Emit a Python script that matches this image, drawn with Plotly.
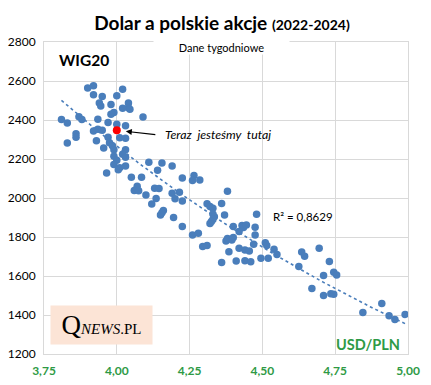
import numpy as np
import plotly.graph_objects as go

# Weekly data 2022-2024: USD/PLN vs WIG20
usd = [3.90, 3.92, 3.92, 3.95, 4.00, 4.02, 3.94, 3.945, 3.98, 4.04, 4.04, 4.02, 4.045,
       3.99, 3.98, 4.09, 3.81, 3.83, 3.87, 3.88, 3.935, 3.97, 4.00, 4.03, 3.935, 3.92,
       3.95, 3.86, 3.86, 3.93, 3.97, 4.01, 4.03, 3.83, 3.975, 3.955, 3.985, 3.99, 4.03,
       4.02, 3.99, 4.00, 4.03, 3.99, 4.01, 4.03, 4.005, 3.965,
       4.05, 4.085, 4.11, 4.155, 4.19, 4.14, 4.225, 4.265, 4.26, 4.285, 4.07, 4.06,
       4.075, 4.10, 4.13, 4.145, 4.19, 4.20, 4.215, 4.225, 4.135, 4.12, 4.16, 4.15,
       4.155, 4.195, 4.225, 4.38,
       4.31, 4.32, 4.33, 4.33, 4.335, 4.33, 4.325, 4.32, 4.36, 4.37, 4.48, 4.26, 4.28,
       4.295, 4.31, 4.40, 4.43, 4.435, 4.445, 4.42, 4.475, 4.475, 4.375, 4.38, 4.395,
       4.40, 4.385, 4.42, 4.44, 4.455, 4.47, 4.36, 4.41, 4.44, 4.46, 4.495, 4.52, 4.51,
       4.515, 4.54, 4.55,
       4.625, 4.635, 4.645, 4.695, 4.73, 4.71, 4.745, 4.755, 4.67, 4.71, 4.735, 4.745,
       4.845, 4.91, 4.935, 4.955, 4.99]
wig20 = [2564, 2576, 2530, 2520, 2525, 2558, 2487, 2472, 2479, 2487, 2463, 2460, 2455,
         2438, 2429, 2415, 2402, 2385, 2417, 2403, 2404, 2387, 2378, 2370, 2352, 2343,
         2347, 2330, 2312, 2294, 2311, 2309, 2306, 2282, 2283, 2257, 2268, 2247, 2247,
         2224, 2214, 2194, 2209, 2172, 2155, 2164, 2145, 2128,
         2107, 2107, 2183, 2179, 2164, 2142, 2102, 2116, 2090, 2092, 2060, 2038,
         2037, 2016, 2050, 2049, 2024, 1996, 2029, 1985, 1998, 1969, 1936, 1913,
         1925, 1900, 1854, 2034,
         1970, 1956, 1947, 1918, 1904, 1890, 1879, 1869, 1972, 1913, 1917, 1810, 1819,
         1751, 1756, 1854, 1859, 1849, 1862, 1828, 1850, 1810, 1780, 1792, 1785,
         1797, 1724, 1742, 1733, 1728, 1763, 1669, 1677, 1678, 1673, 1691, 1691, 1770,
         1756, 1737, 1710,
         1649, 1723, 1701, 1742, 1675, 1602, 1619, 1605, 1536, 1500, 1509, 1506,
         1413, 1459, 1396, 1377, 1403]

current_usd = [4.00]
current_wig20 = [2347]

x_ticks = [3.75, 4.00, 4.25, 4.50, 4.75, 5.00]
y_ticks = [1200, 1400, 1600, 1800, 2000, 2200, 2400, 2600, 2800]
r2_label = "R² = 0,8629"

BLUE = "#4A7EBB"
GREEN = "#2E9A45"
GRID = "#D9D9D9"
FONT = "Lato"

# Exponential trend line (as in Excel): y = a * exp(b * x)
b, ln_a = np.polyfit(usd, np.log(wig20), 1)
tx = np.linspace(min(usd), max(usd), 60)
ty = np.exp(ln_a + b * tx)

fig = go.Figure()
fig.add_trace(go.Scatter(x=usd, y=wig20, mode="markers",
                         marker=dict(color=BLUE, size=7.5), showlegend=False,
                         hoverinfo="x+y"))
fig.add_trace(go.Scatter(x=tx, y=ty, mode="lines",
                         line=dict(color=BLUE, width=1.6, dash="dot"),
                         showlegend=False, hoverinfo="skip"))
fig.add_trace(go.Scatter(x=current_usd, y=current_wig20, mode="markers",
                         marker=dict(color="#FF0000", size=8), showlegend=False))

fig.update_layout(
    width=431, height=385,
    margin=dict(l=44, r=23, t=42, b=31),
    paper_bgcolor="white", plot_bgcolor="white",
    separators=", ",
    font=dict(family=FONT, size=11, color="black"),
    title=dict(
        text="<b>Dolar a polskie akcje <span style='font-size:14px'>(2022-2024)</span></b>",
        x=0.515, xanchor="center", y=0.94, yanchor="middle",
        font=dict(family=FONT, size=19, color="black")),
    xaxis=dict(range=[3.75, 5.0], tickvals=x_ticks, tickformat=".2f",
               showgrid=True, gridcolor=GRID, gridwidth=1, automargin=False,
               showline=True, linecolor=GRID, mirror=True, zeroline=False,
               ticks="", ticklabelstandoff=6,
               tickfont=dict(family=FONT, size=12, color=GREEN, weight="bold")),
    yaxis=dict(range=[1200, 2800], tickvals=y_ticks, automargin=False,
               showgrid=True, gridcolor=GRID, gridwidth=1,
               showline=True, linecolor=GRID, mirror=True, zeroline=False,
               ticks="", ticklabelstandoff=5,
               tickfont=dict(family=FONT, size=12, color="black")),
)

fig.add_annotation(x=0.488, xref="paper", y=2772, yref="y",
                   text="Dane tygodniowe", showarrow=False,
                   font=dict(family=FONT, size=11, color="black"),
                   bgcolor="white", width=135, height=14, borderpad=0)
fig.add_annotation(x=3.794, y=2710, xanchor="left", yanchor="middle",
                   text="<b>WIG20</b>", showarrow=False,
                   font=dict(family=FONT, size=15.5, color="black"))
fig.add_annotation(x=4.031, y=2342, ax=31, ay=3.5, text="",
                   showarrow=True, arrowhead=2, arrowsize=1, arrowwidth=1.2,
                   arrowcolor="black")
fig.add_annotation(x=4.158, y=2324, xanchor="left", yanchor="middle",
                   text="<i>Teraz  jesteśmy  tutaj</i>", showarrow=False,
                   font=dict(family=FONT, size=12.3, color="black"))
fig.add_annotation(x=4.528, y=1903, xanchor="left", yanchor="middle",
                   text=r2_label, showarrow=False,
                   font=dict(family=FONT, size=11.5, color="black"))
fig.add_annotation(x=4.978, y=1250, xanchor="right", yanchor="middle",
                   text="<b>USD/PLN</b>", showarrow=False,
                   font=dict(family=FONT, size=14.5, color=GREEN))
fig.add_annotation(x=3.946, y=1348, xanchor="center", yanchor="middle",
                   text="<span style='font-size:27px'>Q</span><i>NEWS</i>.PL",
                   showarrow=False, bgcolor="#FCE4D6", width=99, height=36,
                   font=dict(family="Liberation Serif", size=15, color="black"))

fig.write_html("out.html", config={"displayModeBar": False},
               post_script="document.body.style.margin='0';document.body.style.overflow='hidden';")
